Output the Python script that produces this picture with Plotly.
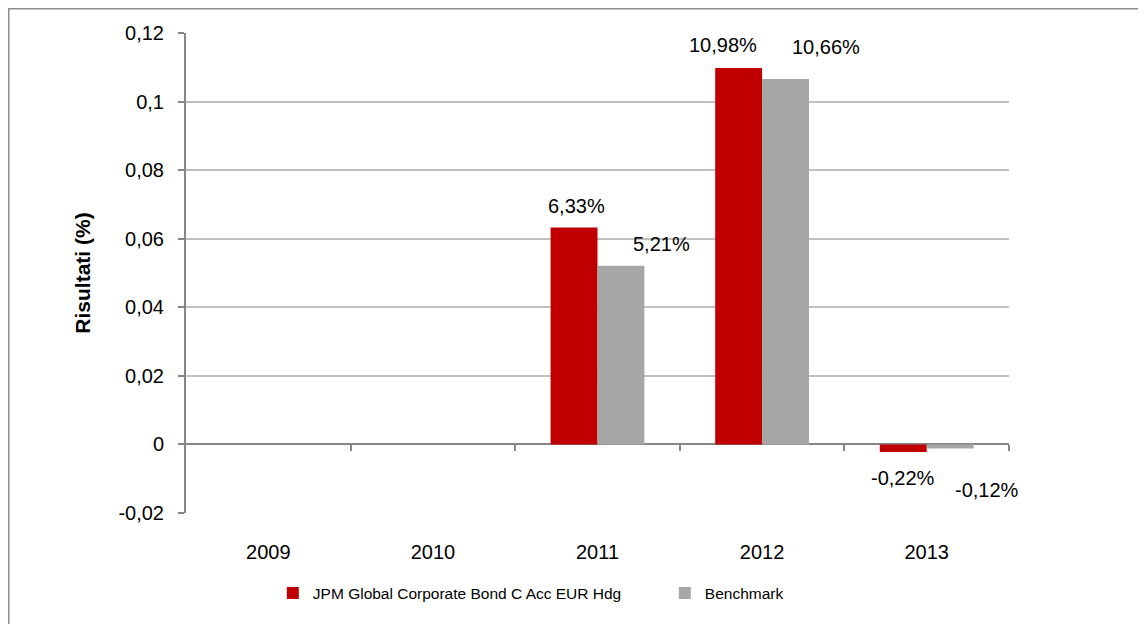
import plotly.graph_objects as go

# data
years = ["2009", "2010", "2011", "2012", "2013"]
fund_name = "JPM Global Corporate Bond C Acc EUR Hdg"
fund = [None, None, 0.0633, 0.1098, -0.0022]
bench_name = "Benchmark"
bench = [None, None, 0.0521, 0.1066, -0.0012]

y_ticks = [-0.02, 0, 0.02, 0.04, 0.06, 0.08, 0.1, 0.12]
y_ticktext = ["-0,02", "0", "0,02", "0,04", "0,06", "0,08", "0,1", "0,12"]

RED = "#C00000"
GREY = "#A6A6A6"
AXIS = "#868686"
GRID = "#C0C0C0"
FONT = "Arial, Liberation Sans, sans-serif"


def pct(v):
    return f"{v * 100:.2f}%".replace(".", ",")


fig = go.Figure()
fig.add_trace(go.Bar(x=years, y=fund, name=fund_name, marker_color=RED,
                     marker_line_width=0))
fig.add_trace(go.Bar(x=years, y=bench, name=bench_name, marker_color=GREY,
                     marker_line_width=0))
# empty trace so the overlaid boundary-tick axis gets drawn
fig.add_trace(go.Scatter(x=[None], y=[None], xaxis="x2", showlegend=False,
                         hoverinfo="skip"))

# data labels, nudged the way they sit in the original
fund_shift = {"2011": (2, 21), "2012": (-16, 23), "2013": (0, -26)}
bench_shift = {"2011": (40, 22), "2012": (40, 32), "2013": (37, -41)}
for i, (yr, v) in enumerate(zip(years, fund)):
    if v is None:
        continue
    dx, dy = fund_shift[yr]
    fig.add_annotation(x=i, y=v, text=pct(v), showarrow=False, xshift=dx - 23.5,
                       yshift=dy, yanchor="middle", font=dict(size=20, color="black"))
for i, (yr, v) in enumerate(zip(years, bench)):
    if v is None:
        continue
    dx, dy = bench_shift[yr]
    fig.add_annotation(x=i, y=v, text=pct(v), showarrow=False, xshift=dx + 23.5,
                       yshift=dy, yanchor="middle", font=dict(size=20, color="black"))

# the page body adds 8px, so the figure is 8px smaller than the window
fig.update_layout(
    width=1138, height=616,
    margin=dict(l=178, r=137, t=25, b=111),
    paper_bgcolor="white", plot_bgcolor="white",
    font=dict(family=FONT, size=20, color="black"),
    barmode="group", bargap=0.43, bargroupgap=0,
    showlegend=True,
    legend=dict(orientation="h", x=0.1055, xanchor="left", y=-0.132, yanchor="top",
                font=dict(size=15.5), entrywidth=347, traceorder="normal",
                itemwidth=30, bgcolor="rgba(0,0,0,0)"),
    xaxis=dict(type="category", range=[-0.5, 4.5], showline=False, showgrid=False,
               ticks="", ticklabelstandoff=25, zeroline=False, automargin=False),
    xaxis2=dict(overlaying="x", anchor="free", position=1 / 7, range=[-0.5, 4.5],
                tickvals=[0.5, 1.5, 2.5, 3.5, 4.5], ticks="outside", ticklen=6,
                tickwidth=2, tickcolor=AXIS, showticklabels=False, showline=False,
                showgrid=False, zeroline=False),
    yaxis=dict(range=[-0.02, 0.12], tickvals=y_ticks, ticktext=y_ticktext,
               showgrid=True, gridcolor=GRID, gridwidth=1.5,
               showline=True, linecolor=AXIS, linewidth=2,
               ticks="outside", ticklen=6, tickwidth=2, tickcolor=AXIS,
               ticklabelstandoff=10, automargin=False,
               zeroline=True, zerolinecolor=AXIS, zerolinewidth=2,
               title=dict(text="<b>Risultati (%)</b>", standoff=22,
                          font=dict(size=21))),
)

# outer chart border (runs off the right and bottom edge like the source)
fig.add_shape(type="rect", xref="paper", yref="paper",
              x0=-0.2157, x1=1.3, y0=-0.4, y1=1.051,
              line=dict(color="#8C8C8C", width=2), layer="below")

fig.write_html("out.html")
